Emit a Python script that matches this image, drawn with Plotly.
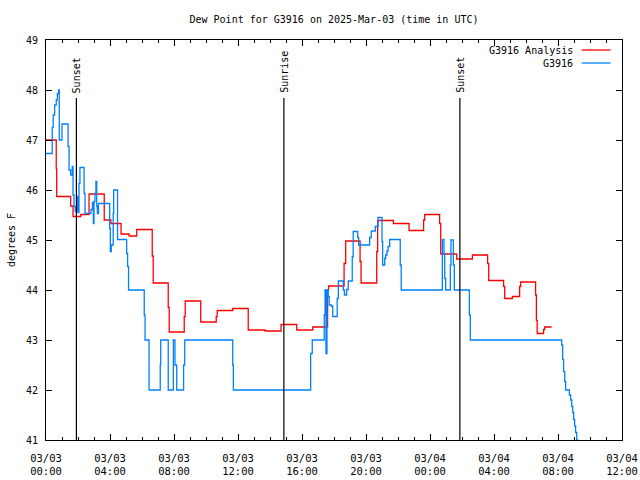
import pandas as pd
import plotly.graph_objects as go

start = pd.Timestamp("2025-03-03 00:00")

# Analysis series (hours after 03/03 00:00 UTC, degrees F)
red_hours = [0.0, 0.64, 0.67, 1.54, 1.69, 2.17, 2.69, 3.64, 4.06, 4.69, 5.19, 5.67,
             6.64, 6.70, 7.64, 7.70, 8.64, 8.70, 9.67, 10.64, 10.70, 11.67, 12.64,
             13.69, 14.69, 15.67, 16.67, 17.60, 17.66, 18.63, 18.73, 19.63, 19.69,
             20.67, 20.73, 21.71, 22.69, 23.60, 23.67, 24.60, 24.67, 25.67, 26.65,
             27.60, 27.67, 28.60, 28.67, 29.15, 29.60, 29.67, 30.60, 30.65, 30.70,
             31.10, 31.17, 31.60]
red_values = [47.0, 46.43, 45.87, 45.68, 45.47, 45.51, 45.92, 45.40, 45.33, 45.12, 45.08, 45.21,
              44.68, 44.14, 43.65, 43.16, 43.47, 43.78, 43.36, 43.47, 43.59, 43.63, 43.20,
              43.18, 43.31, 43.20, 43.26, 44.00, 44.08, 44.53, 44.98, 44.57, 44.14,
              44.77, 45.39, 45.33, 45.19, 45.40, 45.51, 45.33, 44.72, 44.62, 44.70,
              44.53, 44.19, 44.07, 43.83, 43.87, 44.07, 44.16, 43.90, 43.39, 43.13,
              43.21, 43.26, 43.26]

# Station series
blue_hours = [0.0, 0.39, 0.45, 0.54, 0.64, 0.71, 0.79, 0.83, 1.0, 1.38, 1.44, 1.54,
              1.64, 1.69, 1.75, 1.83, 1.94, 2.0, 2.06, 2.12, 2.38, 2.44, 2.81, 2.9,
              2.96, 3.0, 3.06, 3.12, 3.17, 3.21, 3.28, 3.98, 4.02, 4.08, 4.2, 4.23,
              4.47, 4.98, 5.04, 5.10, 5.16, 6.14, 6.19, 6.44, 7.14, 7.17, 7.64, 7.96,
              8.06, 8.17, 8.60, 8.67, 11.67, 11.71, 16.54, 16.64, 17.39, 17.44, 17.50,
              17.56, 17.64, 17.70, 17.82, 17.92, 18.20, 18.27, 18.58, 18.65, 18.79,
              18.89, 19.14, 19.20, 19.48, 19.54, 20.23, 20.33, 20.58, 20.64, 20.75,
              21.00, 21.04, 21.17, 21.23, 21.31, 21.38, 21.48, 22.14, 22.20, 24.77,
              24.87, 24.92, 24.98, 25.27, 25.31, 25.46, 25.52, 26.46, 26.52, 32.23,
              32.29, 32.35, 32.42, 32.48, 32.71, 32.79, 32.86, 32.92, 32.98, 33.04,
              33.10, 33.17, 33.23]
blue_values = [46.73, 47.25, 47.5, 47.7, 47.8, 47.93, 48.0, 47.0, 47.32, 46.87, 46.4, 46.3,
               46.47, 45.9, 45.67, 45.57, 45.87, 45.55, 46.13, 46.45, 45.93, 45.53, 45.61, 45.75,
               45.33, 45.77, 45.93, 46.17, 45.67, 45.53, 45.73, 45.23, 44.77, 44.9, 45.53, 46.0,
               45.01, 45.01, 44.73, 44.47, 44.0, 43.5, 43.0, 42.0, 42.5, 43.0, 42.0, 43.0,
               42.5, 42.0, 42.5, 43.0, 42.5, 42.0, 42.73, 43.0, 43.5, 44.0, 42.73,
               44.0, 43.87, 43.7, 43.68, 43.47, 43.83, 44.18, 44.0, 43.9, 44.01,
               44.18, 44.67, 45.17, 45.05, 44.9, 45.05, 45.18, 45.27, 45.27, 45.45,
               44.97, 44.5, 44.63, 44.7, 44.78, 44.87, 45.01, 44.5, 44.0, 45.01,
               44.73, 44.23, 44.0, 44.5, 45.0, 44.5, 44.0, 43.5, 43.0, 42.9,
               42.61, 42.37, 42.17, 42.0, 41.9, 41.8, 41.67, 41.55, 41.41, 41.28,
               41.15, 41.0, 40.88]

event_labels = ["Sunset", "Sunrise", "Sunset"]
event_times = ["2025-03-03 01:54", "2025-03-03 14:52", "2025-03-04 01:52"]
event_top = 47.84

series_names = ["G3916 Analysis", "G3916"]
series_colors = ["#ff0000", "#0080ff"]

x_range = ["2025-03-03 00:00", "2025-03-04 12:00"]
y_range = [41, 49]

FONT = "DejaVu Sans Mono"


def to_time(hours):
    return [start + pd.Timedelta(hours=h) for h in hours]


fig = go.Figure()
for hrs, vals, name, col in [(red_hours, red_values, series_names[0], series_colors[0]),
                             (blue_hours, blue_values, series_names[1], series_colors[1])]:
    fig.add_trace(go.Scatter(x=to_time(hrs), y=vals, mode="lines", name=name,
                             line=dict(color=col, width=1.3, shape="hv"),
                             showlegend=False))

for lab, t in zip(event_labels, event_times):
    fig.add_shape(type="line", xref="x", yref="y", x0=t, x1=t, y0=y_range[0], y1=event_top,
                  line=dict(color="black", width=1.2))
    fig.add_annotation(x=t, y=event_top, xref="x", yref="y", text=lab, textangle=-90,
                       showarrow=False, yanchor="bottom", xanchor="center", yshift=3,
                       font=dict(family=FONT, size=10, color="black"))

# legend (text right-aligned, sample line on the right, like the original)
leg_y = [0.975, 0.9425]
for i, (name, col) in enumerate(zip(series_names, series_colors)):
    fig.add_annotation(x=0.918, y=leg_y[i], xref="paper", yref="paper", text=name,
                       showarrow=False, xanchor="right", yanchor="middle",
                       font=dict(family=FONT, size=10, color="black"))
    fig.add_shape(type="line", xref="paper", yref="paper", x0=0.93, x1=0.98,
                  y0=leg_y[i], y1=leg_y[i], line=dict(color=col, width=1.3))

fig.update_layout(
    width=640, height=480,
    margin=dict(l=46, r=18, t=40, b=40, pad=0),
    paper_bgcolor="white", plot_bgcolor="white",
    font=dict(family=FONT, size=10, color="black"),
    title=dict(text="Dew Point for G3916 on 2025-Mar-03 (time in UTC)",
               x=0.5, xref="paper", xanchor="center", y=0.96, yanchor="middle",
               font=dict(family=FONT, size=10, color="black")),
    showlegend=False,
)
fig.update_xaxes(type="date", range=x_range, tick0=x_range[0], dtick=4 * 3600000,
                 tickformat="%m/%d<br>%H:%M", ticks="inside", ticklen=6, tickcolor="black",
                 showline=True, linecolor="black", linewidth=1, mirror="ticks",
                 showgrid=False, zeroline=False, automargin=False,
                 ticklabelstandoff=8,
                 minor=dict(dtick=3600000, tick0=x_range[0], ticks="inside", ticklen=3,
                            tickcolor="black", showgrid=False),
                 tickfont=dict(family=FONT, size=10.5, color="black"))
fig.update_yaxes(range=y_range, dtick=1, ticks="inside", ticklen=6, tickcolor="black",
                 showline=True, linecolor="black", linewidth=1, mirror="ticks",
                 showgrid=False, zeroline=False, automargin=False,
                 ticklabelstandoff=5,
                 title=dict(text="degrees F", standoff=8,
                            font=dict(family=FONT, size=10, color="black")),
                 tickfont=dict(family=FONT, size=10, color="black"))

fig.write_html("out.html", config={"displayModeBar": False},
               post_script="document.body.style.margin='0px';document.body.style.padding='0px';")
